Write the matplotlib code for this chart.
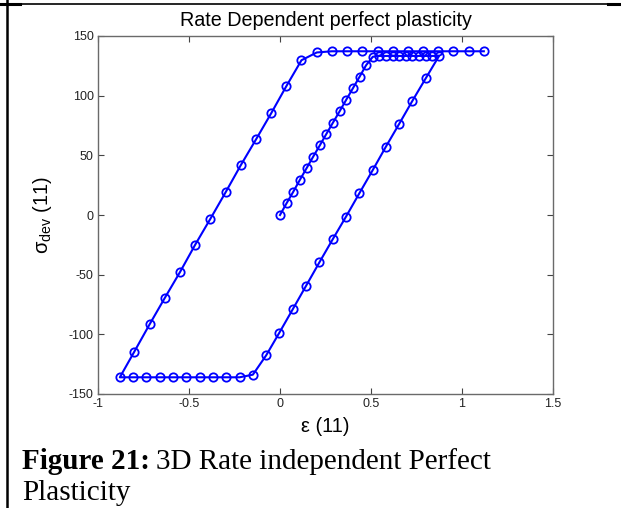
import matplotlib
matplotlib.use('Agg')
import matplotlib.pyplot as plt
from matplotlib.lines import Line2D

# strain / deviatoric stress history, component 11
eps_load = [0.000, 0.036, 0.073, 0.109, 0.146, 0.182, 0.219, 0.255, 0.291, 0.328,
            0.364, 0.401, 0.437, 0.473, 0.510, 0.546, 0.583, 0.619, 0.655, 0.692,
            0.728, 0.765, 0.801, 0.837, 0.874]
sig_load = [0.0, 9.8, 19.5, 29.4, 39.2, 48.8, 58.4, 68.0, 77.4, 87.0,
            96.6, 106.3, 115.8, 125.5, 132.6, 133.3, 133.3, 133.3, 133.3, 133.3,
            133.3, 133.3, 133.3, 133.3, 133.3]

eps_unload = [0.801, 0.728, 0.655, 0.582, 0.509, 0.436, 0.363, 0.289, 0.216, 0.143,
              0.070, -0.003, -0.076, -0.149, -0.222, -0.295, -0.368, -0.442, -0.515, -0.588,
              -0.661, -0.734, -0.807, -0.880]
sig_unload = [114.6, 95.8, 76.4, 57.3, 37.5, 18.2, -1.3, -20.5, -39.8, -59.4,
              -79.0, -98.5, -117.6, -133.8, -136.0, -136.0, -136.0, -136.0, -136.0, -136.0,
              -136.0, -136.0, -136.0, -136.0]

eps_reload = [-0.800, -0.716, -0.633, -0.549, -0.466, -0.383, -0.299, -0.216, -0.132, -0.049,
              0.035, 0.118, 0.202, 0.285, 0.369, 0.452, 0.536, 0.619, 0.703, 0.786,
              0.869, 0.953, 1.036, 1.120]
sig_reload = [-114.4, -91.5, -69.5, -47.7, -24.9, -3.3, 19.0, 41.6, 63.3, 85.1,
              108.0, 129.7, 136.2, 137.2, 137.2, 137.2, 137.2, 137.2, 137.2, 137.2,
              137.2, 137.2, 137.2, 137.2]

xticks = [-1, -0.5, 0, 0.5, 1, 1.5]
xticklabels = ['-1', '-0.5', '0', '0.5', '1', '1.5']
yticks = [-150, -100, -50, 0, 50, 100, 150]

eps = eps_load + eps_unload + eps_reload
sig = sig_load + sig_unload + sig_reload

plt.rcParams['font.family'] = ['Liberation Sans', 'DejaVu Sans']
plt.rcParams['axes.unicode_minus'] = False
plt.rcParams['mathtext.fontset'] = 'custom'
plt.rcParams['mathtext.rm'] = 'Liberation Sans'
plt.rcParams['mathtext.it'] = 'Liberation Sans'

fig = plt.figure(figsize=(6.21, 5.08), dpi=100)
ax = fig.add_axes([98/621, 1 - 394/508, 455/621, 358/508])

ax.plot(eps, sig, '-o', color='blue', lw=1.5, ms=6, mfc='none', mec='blue', mew=1.3)

ax.set_xlim(-1, 1.5)
ax.set_ylim(-150, 150)
ax.set_xticks(xticks)
ax.set_xticklabels(xticklabels)
ax.set_yticks(yticks)
ax.tick_params(direction='in', length=4, width=0.8, top=True, right=True,
               labelsize=9, colors='#444444', labelcolor='#222222', pad=3)
for s in ax.spines.values():
    s.set_color('#6a6a6a')
    s.set_linewidth(1.0)

ax.set_title('Rate Dependent perfect plasticity', fontsize=14.2, pad=7)
ax.set_xlabel('ε (11)', fontsize=14.5, labelpad=5)
ax.set_ylabel(r'$\mathrm{σ}_{\mathrm{dev}}$ (11)', fontsize=14.5, labelpad=11)

# table cell borders around the figure
fig.add_artist(Line2D([0, 1], [1 - 3.5/508, 1 - 3.5/508], transform=fig.transFigure,
                      color='black', lw=1.2))
fig.add_artist(Line2D([0, 20/621], [1 - 3.5/508, 1 - 3.5/508], transform=fig.transFigure,
                      color='black', lw=2.2))
fig.add_artist(Line2D([608/621, 1], [1 - 4/508, 1 - 4/508], transform=fig.transFigure,
                      color='black', lw=2.2))
fig.add_artist(Line2D([7/621, 7/621], [0, 1], transform=fig.transFigure,
                      color='black', lw=1.8))

# caption
cap = fig.text(22/621, 1 - 469/508, 'Figure 21:', fontsize=21, fontweight='bold',
               family='Liberation Serif', va='baseline')
fig.canvas.draw()
bb = cap.get_window_extent()
fig.text((bb.x1 + 6) / 621, 1 - 469/508, '3D Rate independent Perfect', fontsize=21,
         family='Liberation Serif', va='baseline')
fig.text(22/621, 1 - 500/508, 'Plasticity', fontsize=21,
         family='Liberation Serif', va='baseline')

fig.savefig('out.png', dpi=100)
